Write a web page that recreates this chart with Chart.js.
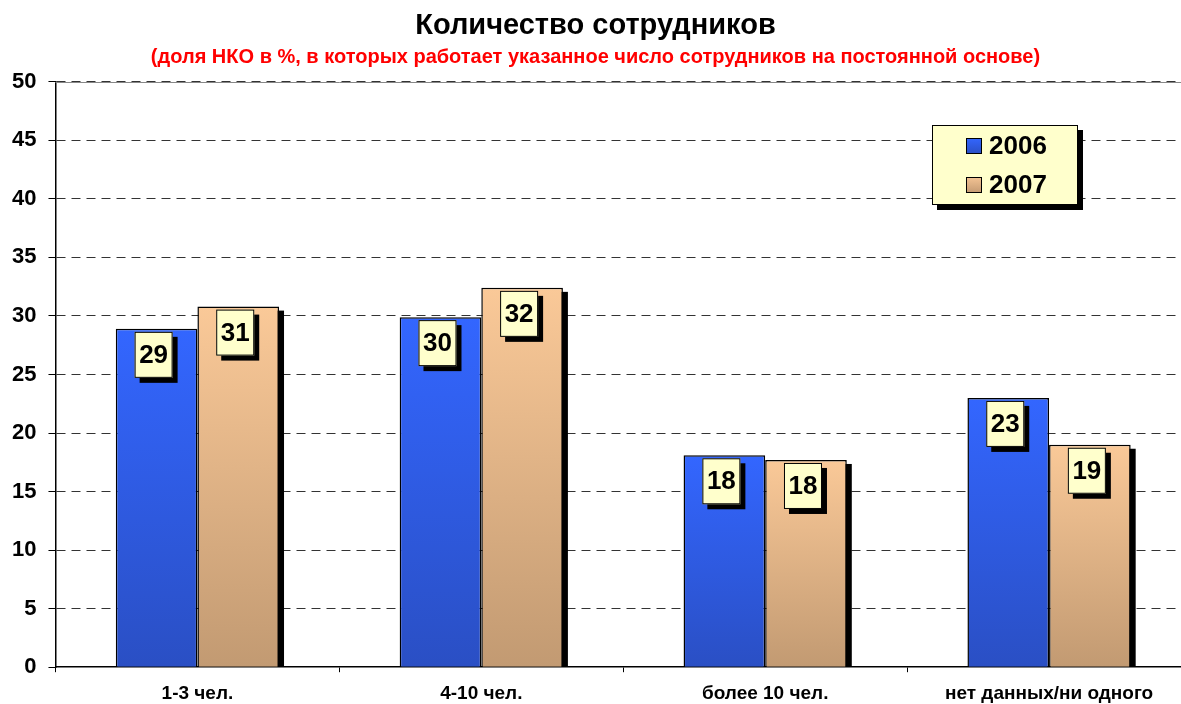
<!DOCTYPE html>
<html>
<head>
<meta charset="utf-8">
<script src="https://cdn.jsdelivr.net/npm/chart.js@4"></script>
<style>
  body { margin: 0; background: #fff; overflow: hidden; }
  #wrap { width: 1181px; height: 704px; overflow: hidden; }
</style>
</head>
<body>
<div id="wrap"><canvas id="chart" width="1195" height="716"></canvas></div>
<script>
const categories = ["1-3 чел.", "4-10 чел.", "более 10 чел.", "нет данных/ни одного"];
const years = ["2006", "2007"];
const values2006 = [28.9, 29.9, 18.1, 23.0];
const values2007 = [30.8, 32.4, 17.7, 19.0];
const yTicks = [0, 5, 10, 15, 20, 25, 30, 35, 40, 45, 50];

const FONT = "Arial, 'Liberation Sans', sans-serif";

// gradient from top of each bar down to its base
const barGradient = (c, top, bottom) => {
    const chart = c.chart;
    const ys = chart.scales.y;
    if (!chart.chartArea || !ys || c.raw === undefined) return top;
    const y0 = ys.getPixelForValue(c.raw);
    const y1 = ys.getPixelForValue(0);
    const g = chart.ctx.createLinearGradient(0, y0, 0, y1);
    g.addColorStop(0, top);
    g.addColorStop(1, bottom);
    return g;
};

// black drop shadow on the right of the 2007 bars
const barShadow = {
    id: "barShadow",
    beforeDatasetsDraw(chart) {
        const ctx = chart.ctx;
        ctx.save();
        ctx.fillStyle = "#000";
        chart.getDatasetMeta(1).data.forEach(bar => {
            const w = bar.width;
            ctx.fillRect(bar.x - w / 2 + 5, bar.y + 4, w, bar.base - bar.y - 4);
        });
        ctx.restore();
    }
};

const drawBox = (ctx, x, y, w, h) => {
    ctx.fillStyle = "#000";
    ctx.fillRect(x + 5, y + 5, w, h);
    ctx.fillStyle = "#FFFFCC";
    ctx.fillRect(x, y, w, h);
    ctx.strokeStyle = "#000";
    ctx.lineWidth = 1;
    ctx.strokeRect(x + 0.5, y + 0.5, w - 1, h - 1);
};

// value labels in yellow boxes + legend box
const labelsAndLegend = {
    id: "labelsAndLegend",
    beforeDatasetsDraw(chart) {
        // solid top border line of the plot area
        const { ctx, chartArea } = chart;
        ctx.save();
        ctx.strokeStyle = "#888";
        ctx.lineWidth = 1;
        ctx.beginPath();
        ctx.moveTo(chartArea.left, Math.round(chartArea.top) + 0.5);
        ctx.lineTo(chartArea.right, Math.round(chartArea.top) + 0.5);
        ctx.stroke();
        ctx.restore();
    },
    afterDatasetsDraw(chart) {
        const ctx = chart.ctx;
        ctx.save();
        ctx.font = "bold 26px " + FONT;
        ctx.textAlign = "center";
        ctx.textBaseline = "middle";
        chart.data.datasets.forEach((ds, i) => {
            chart.getDatasetMeta(i).data.forEach((bar, j) => {
                const w = 38, h = 46;
                const x = bar.x - w / 2 - 3;
                const y = bar.y + 3;
                drawBox(ctx, x, y, w, h);
                ctx.fillStyle = "#000";
                ctx.fillText(Math.round(ds.data[j]).toString(), x + w / 2, y + h / 2 + 1);
            });
        });

        // legend
        const lx = 932, ly = 125, lw = 146, lh = 80;
        drawBox(ctx, lx, ly, lw, lh);
        const swatches = [["#3366FF", "#2A4FC4"], ["#F4C494", "#C49A72"]];
        years.forEach((yr, i) => {
            const cy = ly + 21 + i * 39;
            const g = ctx.createLinearGradient(0, cy - 8, 0, cy + 8);
            g.addColorStop(0, swatches[i][0]);
            g.addColorStop(1, swatches[i][1]);
            ctx.fillStyle = g;
            ctx.fillRect(966, cy - 8, 16, 16);
            ctx.strokeStyle = "#000";
            ctx.strokeRect(966.5, cy - 7.5, 15, 15);
            ctx.fillStyle = "#000";
            ctx.textAlign = "left";
            ctx.fillText(yr, 989, cy + 1);
        });
        ctx.restore();
    }
};

const config = {
    type: "bar",
    data: {
        labels: categories,
        datasets: [
            {
                label: years[0],
                data: values2006,
                backgroundColor: (c) => barGradient(c, "#3366FF", "#2A4FC4"),
                borderColor: "#000",
                borderWidth: 1.5,
                borderSkipped: "bottom",
                categoryPercentage: 0.575,
                barPercentage: 1.0,
            },
            {
                label: years[1],
                data: values2007,
                backgroundColor: (c) => barGradient(c, "#FAC998", "#C29A72"),
                borderColor: "#000",
                borderWidth: 1.5,
                borderSkipped: "bottom",
                categoryPercentage: 0.575,
                barPercentage: 1.0,
            },
        ],
    },
    options: {
        responsive: false,
        animation: false,
        layout: { padding: { left: 0, right: 4, top: 0, bottom: 1 } },
        plugins: {
            legend: { display: false },
            tooltip: { enabled: false },
            title: {
                display: true,
                text: "Количество сотрудников",
                color: "#000",
                font: { family: FONT, size: 29, weight: "bold" },
                padding: { top: 9, bottom: 2 },
            },
            subtitle: {
                display: true,
                text: "(доля НКО в %, в которых работает указанное число сотрудников на постоянной основе)",
                color: "#FF0000",
                font: { family: FONT, size: 20, weight: "bold" },
                padding: { top: 0, bottom: 12 },
            },
        },
        scales: {
            x: {
                offset: true,
                grid: {
                    offset: true,
                    drawOnChartArea: false,
                    drawTicks: true,
                    tickLength: 5,
                    color: "#000",
                },
                border: { color: "#000", width: 1.5 },
                ticks: {
                    color: "#000",
                    font: { family: FONT, size: 19, weight: "bold" },
                    padding: 10,
                    maxRotation: 0,
                },
            },
            y: {
                min: 0,
                max: 50,
                afterBuildTicks: (axis) => { axis.ticks = yTicks.map(v => ({ value: v })); },
                grid: {
                    color: (c) => c.tick && c.tick.value === 0 ? "rgba(0,0,0,0)" : "#333",
                    lineWidth: 1,
                    tickLength: 7,
                    tickColor: "#000",
                    tickBorderDash: [],
                },
                border: { color: "#000", width: 1.5, dash: [9, 6] },
                ticks: {
                    color: "#000",
                    font: { family: FONT, size: 22, weight: "bold" },
                    padding: 12,
                },
            },
        },
    },
    plugins: [barShadow, labelsAndLegend],
};

new Chart(document.getElementById("chart").getContext("2d"), config);
</script>
</body>
</html>
